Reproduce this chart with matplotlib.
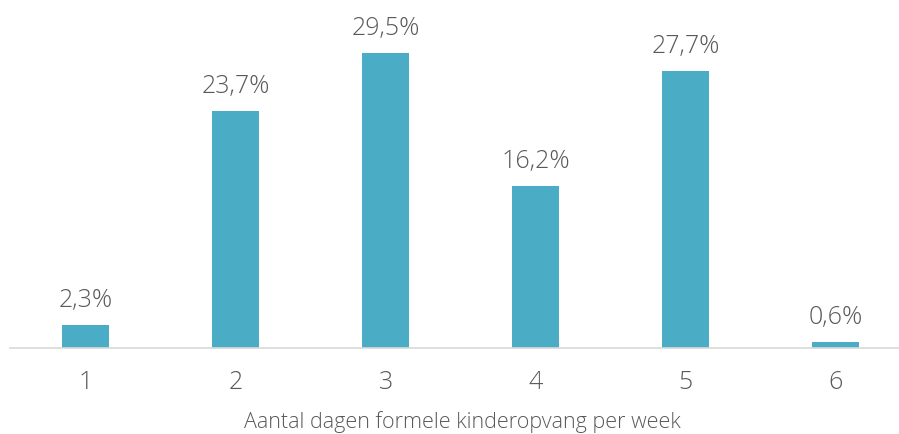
import matplotlib.pyplot as plt

# data
dagen = ["1", "2", "3", "4", "5", "6"]
percentages = [2.3, 23.7, 29.5, 16.2, 27.7, 0.6]
labels = ["2,3%", "23,7%", "29,5%", "16,2%", "27,7%", "0,6%"]

BAR_COLOR = "#4BACC6"
TEXT_COLOR = "#595959"
FONT = "Open Sans"

W, H = 899, 435
fig = plt.figure(figsize=(W / 100, H / 100), dpi=100)
# axes: left edge at 10 px, bottom (axis line) at y=349 px
ax = fig.add_axes([10 / W, (H - 349) / H, (W - 10) / W, 340 / H])

x = list(range(1, len(dagen) + 1))
ax.bar(x, percentages, width=0.31, color=BAR_COLOR)

for xi, v, lab in zip(x, percentages, labels):
    ax.annotate(lab, (xi, v), xytext=(0, 9), textcoords="offset points",
                ha="center", va="bottom", fontsize=18, color=TEXT_COLOR,
                family=FONT, fontweight="light")

left = 1 - 75.5 / 150
ax.set_xlim(left, left + (W - 10) / 150)
ax.set_ylim(0, 34)
ax.set_xticks(x)
ax.set_xticklabels(dagen, fontsize=18, color=TEXT_COLOR, family=FONT, fontweight="light")
ax.tick_params(axis="x", length=0, pad=15)
ax.set_yticks([])

for s in ["top", "right", "left"]:
    ax.spines[s].set_visible(False)
ax.spines["bottom"].set_color("#D9D9D9")
ax.spines["bottom"].set_linewidth(1.2)

fig.text(462 / W, 1 - 422 / H, "Aantal dagen formele kinderopvang per week",
         ha="center", va="center", fontsize=15.5, color=TEXT_COLOR,
         family=FONT, fontweight="light")

fig.savefig("out.png", dpi=100)
